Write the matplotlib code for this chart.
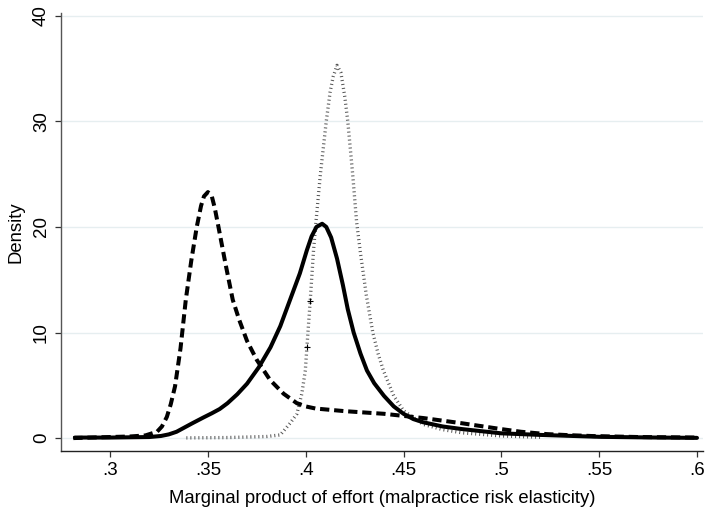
import numpy as np
import matplotlib
matplotlib.use("Agg")
import matplotlib.pyplot as plt

plt.rcParams['font.family'] = ['Liberation Sans', 'DejaVu Sans']

# Densidad estimada (kernel) por grupo, leida sobre una rejilla irregular
x_solida = [0.282, 0.30, 0.32, 0.326, 0.33, 0.334, 0.3375, 0.342, 0.3477, 0.352,
            0.356, 0.36, 0.365, 0.37, 0.376, 0.382, 0.387, 0.392, 0.397,
            0.4006, 0.403, 0.4055, 0.4084, 0.4105, 0.413, 0.416, 0.419, 0.4215,
            0.4245, 0.428, 0.4313, 0.435, 0.44, 0.445, 0.45, 0.455, 0.46, 0.47,
            0.48, 0.50, 0.52, 0.55, 0.58, 0.60]
y_solida = [0.05, 0.05, 0.1, 0.2, 0.35, 0.6, 0.95, 1.4, 1.95, 2.35,
            2.75, 3.3, 4.15, 5.15, 6.7, 8.6, 10.6, 13.1, 15.6,
            17.8, 19.1, 20.0, 20.3, 20.0, 19.0, 17.0, 14.5, 12.2,
            10.0, 8.0, 6.4, 5.2, 4.0, 3.0, 2.3, 1.8, 1.5, 1.1,
            0.85, 0.45, 0.3, 0.12, 0.05, 0.02]

x_guiones = [0.2812, 0.29, 0.30, 0.31, 0.318, 0.324, 0.3265, 0.329, 0.331, 0.3332,
             0.336, 0.3387, 0.3415, 0.3443, 0.3465, 0.348, 0.350, 0.352, 0.3535,
             0.3554, 0.359, 0.3627, 0.366, 0.37, 0.375, 0.3818, 0.3887, 0.3955,
             0.40, 0.405, 0.42, 0.44, 0.46, 0.48, 0.50, 0.51, 0.523, 0.534,
             0.547, 0.57, 0.60]
y_guiones = [0.0, 0.05, 0.1, 0.15, 0.25, 0.6, 1.1, 2.0, 3.2, 4.9,
             8.5, 13.1, 16.8, 20.0, 22.0, 22.9, 23.3, 22.9, 21.8,
             20.0, 16.5, 13.1, 11.2, 9.2, 7.4, 5.5, 4.2, 3.3,
             3.0, 2.8, 2.55, 2.3, 1.9, 1.4, 0.85, 0.6, 0.38, 0.28,
             0.19, 0.1, 0.05]

x_puntos = [0.339, 0.36, 0.38, 0.387, 0.392, 0.3955, 0.398, 0.3998, 0.4006,
            0.4023, 0.404, 0.405, 0.4075, 0.4105, 0.4125, 0.414, 0.416, 0.418,
            0.42, 0.4215, 0.424, 0.426, 0.428, 0.431, 0.4343, 0.437, 0.4397,
            0.445, 0.45, 0.46, 0.47, 0.48, 0.50, 0.52]
y_puntos = [0.02, 0.05, 0.15, 0.3, 1.4, 2.3, 4.2, 6.4, 8.6,
            13.0, 17.8, 20.0, 25.0, 30.0, 32.8, 34.2, 35.3, 34.6,
            32.3, 30.0, 25.0, 20.5, 17.5, 13.5, 10.0, 8.0, 6.4,
            4.0, 2.6, 1.3, 0.8, 0.5, 0.2, 0.08]

# marcas sueltas sobre la curva punteada
x_marcas = [0.4006, 0.4023]
y_marcas = [8.6, 13.0]

xticks = [0.3, 0.35, 0.4, 0.45, 0.5, 0.55, 0.6]
xtick_labels = ['.3', '.35', '.4', '.45', '.5', '.55', '.6']
yticks = [0, 10, 20, 30, 40]

fig = plt.figure(figsize=(7.05, 5.12), dpi=100)
ax = fig.add_axes([0.0865, 0.119, 0.911, 0.856])

ax.plot(x_puntos, y_puntos, color='#555555', lw=2.4,
        linestyle=(0, (0.3, 0.9)), zorder=2)
ax.plot(x_guiones, y_guiones, color='black', lw=2.9,
        linestyle=(0, (2.3, 1.2)), dash_joinstyle='round', zorder=3)
ax.plot(x_solida, y_solida, color='black', lw=2.9, zorder=4,
        solid_capstyle='round', solid_joinstyle='round')
ax.plot(x_marcas, y_marcas, linestyle='none', marker='+', color='black',
        markersize=4, markeredgewidth=0.8, zorder=5)

ax.set_xlim(0.2749, 0.6032)
ax.set_ylim(-1.23, 40.28)
ax.set_xticks(xticks)
ax.set_xticklabels(xtick_labels)
ax.set_yticks(yticks)
ax.set_yticklabels([str(v) for v in yticks], rotation=90, va='center')

ax.yaxis.grid(True, color='#e6eef0', lw=1.0)
ax.set_axisbelow(True)

for lado in ['top', 'right']:
    ax.spines[lado].set_visible(False)
ax.spines['left'].set_color('#555555')
ax.spines['bottom'].set_color('#222222')
ax.spines['left'].set_linewidth(1.0)
ax.spines['bottom'].set_linewidth(1.0)
ax.tick_params(direction='out', length=4, width=0.9, labelsize=13.5,
               color='#333333', pad=4)

ax.set_xlabel('Marginal product of effort (malpractice risk elasticity)',
              fontsize=13.3, labelpad=8)
ax.set_ylabel('Density', fontsize=13.3, labelpad=6)

fig.savefig('out.png', dpi=100)
plt.close(fig)
